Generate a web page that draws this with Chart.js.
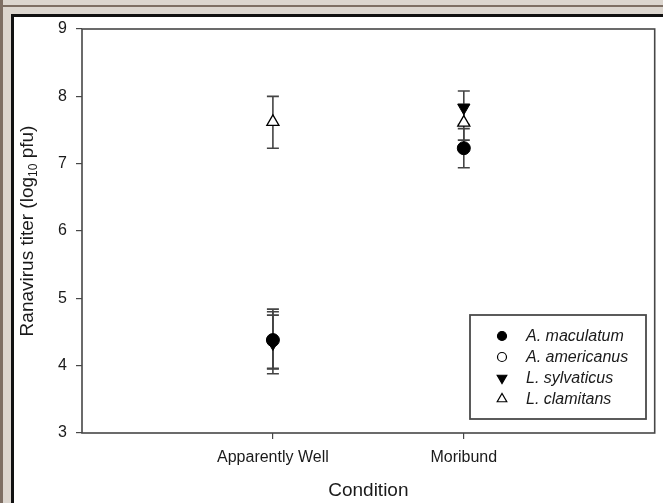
<!DOCTYPE html>
<html>
<head>
<meta charset="utf-8">
<script src="https://cdn.jsdelivr.net/npm/chart.js@4.4.1/dist/chart.umd.min.js"></script>
<style>
  html, body { margin: 0; padding: 0; }
  body { width: 663px; height: 503px; position: relative; overflow: hidden; background: #dcd6cf; }
  #brownL { position: absolute; left: 0; top: 0; width: 3px; height: 503px; background: #7e6f64; }
  #brownT { position: absolute; left: 0; top: 5px; width: 663px; height: 2px; background: #7e6f64; }
  #panel { position: absolute; left: 11px; top: 14px; right: 0; bottom: 0; background: #fff;
           border-left: 3px solid #111; border-top: 3px solid #111; }
  canvas { position: absolute; left: 0; top: 0; }
</style>
</head>
<body>
<div id="brownL"></div>
<div id="brownT"></div>
<div id="panel"></div>
<canvas id="c" width="663" height="503"></canvas>
<script>
// x positions of the two conditions on the axis
const conditions = ["Apparently Well", "Moribund"];
const conditionPos = [1, 2];
const species = ["A. maculatum", "A. americanus", "L. sylvaticus", "L. clamitans"];

// means and error bar ends, log10 pfu
const maculatumMean = [4.38, 7.23];
const maculatumLo = [3.95, 6.94];
const maculatumHi = [4.84, 7.52];

const americanusMean = [4.38, null];
const americanusLo = [3.96, null];
const americanusHi = [4.80, null];

const sylvaticusMean = [4.33, 7.83];
const sylvaticusLo = [3.88, 7.58];
const sylvaticusHi = [4.75, 8.08];

const clamitansMean = [7.62, 7.61];
const clamitansLo = [7.23, 7.35];
const clamitansHi = [8.00, 7.88];

const yTicks = [3, 4, 5, 6, 7, 8, 9];

const FONT = "'Liberation Sans', Arial, sans-serif";
const INK = "#1a1a1a";

function pts(mean) {
  return mean.map((v, i) => ({ x: conditionPos[i], y: v }));
}

const errors = [
  [maculatumLo, maculatumHi],
  [americanusLo, americanusHi],
  [sylvaticusLo, sylvaticusHi],
  [clamitansLo, clamitansHi]
];

const errorBars = {
  id: "errorBars",
  beforeDatasetsDraw(chart) {
    const ctx = chart.ctx, xs = chart.scales.x, ys = chart.scales.y;
    ctx.save();
    ctx.strokeStyle = "#444";
    ctx.lineWidth = 1.6;
    errors.forEach(([lo, hi]) => {
      lo.forEach((l, i) => {
        if (l == null) return;
        const px = xs.getPixelForValue(conditionPos[i]);
        const y1 = ys.getPixelForValue(l), y2 = ys.getPixelForValue(hi[i]);
        ctx.beginPath();
        ctx.moveTo(px, y1); ctx.lineTo(px, y2);
        ctx.moveTo(px - 6, y1); ctx.lineTo(px + 6, y1);
        ctx.moveTo(px - 6, y2); ctx.lineTo(px + 6, y2);
        ctx.stroke();
      });
    });
    ctx.restore();
  }
};

function marker(ctx, kind, x, y, r) {
  ctx.beginPath();
  if (kind === "circle" || kind === "ocircle") {
    ctx.arc(x, y, r, 0, Math.PI * 2);
  } else if (kind === "down") {
    ctx.moveTo(x - r * 0.87, y - r * 0.5);
    ctx.lineTo(x + r * 0.87, y - r * 0.5);
    ctx.lineTo(x, y + r);
    ctx.closePath();
  } else {
    ctx.moveTo(x - r * 0.87, y + r * 0.5);
    ctx.lineTo(x + r * 0.87, y + r * 0.5);
    ctx.lineTo(x, y - r);
    ctx.closePath();
  }
  ctx.fillStyle = (kind === "circle" || kind === "down") ? "#000" : "#fff";
  ctx.fill();
  ctx.strokeStyle = "#000";
  ctx.lineWidth = 1.2;
  ctx.stroke();
}

const decor = {
  id: "decor",
  afterDraw(chart) {
    const ctx = chart.ctx, a = chart.chartArea;
    ctx.save();
    // plot frame
    ctx.strokeStyle = "#474747";
    ctx.lineWidth = 1.6;
    ctx.strokeRect(a.left, a.top, a.right - a.left, a.bottom - a.top);

    // y title with subscript
    ctx.translate(28, (a.top + a.bottom) / 2);
    ctx.rotate(-Math.PI / 2);
    ctx.fillStyle = INK;
    ctx.textBaseline = "middle";
    const big = "19px " + FONT, small = "12px " + FONT;
    const p1 = "Ranavirus titer (log", p2 = "10", p3 = " pfu)";
    ctx.font = big; const w1 = ctx.measureText(p1).width, w3 = ctx.measureText(p3).width;
    ctx.font = small; const w2 = ctx.measureText(p2).width;
    let x = -(w1 + w2 + w3) / 2;
    ctx.font = big; ctx.fillText(p1, x, 0); x += w1;
    ctx.font = small; ctx.fillText(p2, x, 6); x += w2;
    ctx.font = big; ctx.fillText(p3, x, 0);
    ctx.restore();

    // legend box
    ctx.save();
    ctx.strokeStyle = "#4a4a4a";
    ctx.lineWidth = 1.8;
    ctx.fillStyle = "#fff";
    ctx.fillRect(470, 315, 176, 104);
    ctx.strokeRect(470, 315, 176, 104);
    const kinds = ["circle", "ocircle", "down", "up"];
    ctx.font = "italic 16px " + FONT;
    ctx.textBaseline = "middle";
    species.forEach((s, i) => {
      const ly = 336 + i * 21;
      marker(ctx, kinds[i], 502, ly, kinds[i] === "circle" || kinds[i] === "ocircle" ? 4.5 : 5.5);
      ctx.fillStyle = INK;
      ctx.fillText(s, 526, ly + 1);
    });
    ctx.restore();
  }
};

new Chart(document.getElementById("c"), {
  type: "scatter",
  data: {
    datasets: [
      { label: species[0], data: pts(maculatumMean), pointStyle: "circle", pointRadius: 6.5,
        backgroundColor: "#000", borderColor: "#000", borderWidth: 1 },
      { label: species[1], data: pts(americanusMean), pointStyle: "circle", pointRadius: 5.5,
        backgroundColor: "#fff", borderColor: "#000", borderWidth: 1.2 },
      { label: species[2], data: pts(sylvaticusMean), pointStyle: "triangle", pointRotation: 180, pointRadius: 7,
        backgroundColor: "#000", borderColor: "#000", borderWidth: 1 },
      { label: species[3], data: pts(clamitansMean), pointStyle: "triangle", pointRadius: 7,
        backgroundColor: "#fff", borderColor: "#000", borderWidth: 1.3 }
    ]
  },
  options: {
    responsive: false,
    animation: false,
    devicePixelRatio: 1,
    layout: { padding: { left: 0, top: 29, right: 6, bottom: 0 } },
    plugins: { legend: { display: false }, tooltip: { enabled: false } },
    scales: {
      x: {
        type: "linear", min: 0, max: 3,
        afterBuildTicks: s => { s.ticks = conditionPos.map(v => ({ value: v })); },
        afterFit: s => { s.height = 70; },
        grid: { drawOnChartArea: false, tickLength: 6, color: "#474747", lineWidth: 1.2 },
        border: { display: false },
        ticks: { color: INK, font: { family: FONT, size: 16 }, padding: 9,
                 callback: v => conditions[conditionPos.indexOf(v)] },
        title: { display: true, text: "Condition", color: INK, font: { family: FONT, size: 19 },
                 padding: { top: 0, bottom: 1 } }
      },
      y: {
        min: 3, max: 9,
        afterBuildTicks: s => { s.ticks = yTicks.map(v => ({ value: v })); },
        afterFit: s => { s.width = 82; },
        grid: { drawOnChartArea: false, tickLength: 6, color: "#474747", lineWidth: 1.2 },
        border: { display: false },
        ticks: { color: INK, font: { family: FONT, size: 16 }, padding: 9 }
      }
    }
  },
  plugins: [errorBars, decor]
});
</script>
</body>
</html>
